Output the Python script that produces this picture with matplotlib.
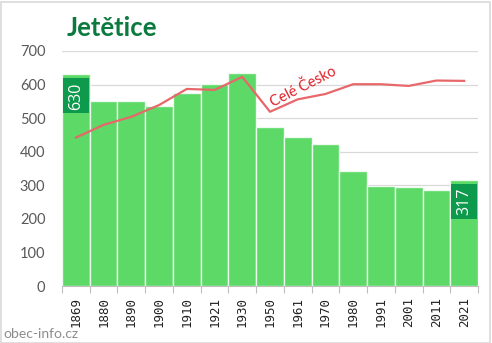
import matplotlib
matplotlib.use("Agg")
import matplotlib.pyplot as plt
from matplotlib.patches import Rectangle

years = ["1869", "1880", "1890", "1900", "1910", "1921", "1930",
         "1950", "1961", "1970", "1980", "1991", "2001", "2011", "2021"]
population = [630, 550, 550, 537, 576, 603, 633, 475, 445, 424, 343, 299, 294, 287, 317]
czechia_scaled = [442, 480, 504, 539, 587, 584, 623, 519, 556, 572, 601, 601, 596, 612, 611]
labelled = {0: "630", 14: "317"}
y_ticks = [0, 100, 200, 300, 400, 500, 600, 700]

W, H = 492, 343
fig = plt.figure(figsize=(W / 100, H / 100), dpi=100)
fig.patch.set_facecolor("white")
ax = fig.add_axes([62 / W, (H - 286) / H, (478 - 62) / W, (286 - 51) / H])

x = list(range(len(years)))
ax.bar(x, population, width=1.0, color="#5cd966", edgecolor=(1, 1, 1, 0.8),
       linewidth=1.0, zorder=2)
ax.plot(x, czechia_scaled, color="#e8676a", lw=1.6, zorder=3)

units_per_px = 700 / (286 - 51)
for i, txt in labelled.items():
    top = population[i] - 4 * units_per_px
    hgt = 35 * units_per_px
    ax.add_patch(Rectangle((i - 0.46, top - hgt), 0.92, hgt, fc="#0e9a4c", ec="none", zorder=5))
    ax.text(i, top - hgt / 2, txt, ha="center", va="center", rotation=90, color="white",
            fontsize=11.5, family="Open Sans", zorder=6)

ax.text(8.2, 592, "Celé Česko", rotation=27, color="#e0202a", fontsize=10.5,
        family="Lato", ha="center", va="center", rotation_mode="anchor", zorder=4)

ax.set_xlim(-0.5, len(years) - 0.5)
ax.set_ylim(0, 700)
ax.set_yticks(y_ticks)
ax.set_yticklabels([str(v) for v in y_ticks])
ax.yaxis.grid(True, color="#d9d9d9", lw=0.9, zorder=0)
ax.set_axisbelow(True)
ax.tick_params(axis="y", length=0, pad=12, labelsize=10.5, labelcolor="#595959")
for t in ax.get_yticklabels():
    t.set_family("Lato")

ax.set_xticks(x)
ax.set_xticklabels(years, rotation=90, family="DejaVu Sans Mono", fontsize=9, color="#222222")
ax.set_xticks([i - 0.5 for i in range(len(years) + 1)], minor=True)
ax.tick_params(axis="x", which="major", length=0, pad=8)
ax.tick_params(axis="x", which="minor", length=5, color="#bfbfbf", width=0.8)

for s in ["left", "right", "top"]:
    ax.spines[s].set_visible(False)
ax.spines["bottom"].set_color("#bfbfbf")
ax.spines["bottom"].set_linewidth(0.8)

fig.text(67 / W, 1 - 36 / H, "Jetětice", family="Lato", weight="bold", fontsize=18.5,
         color="#0b7a3e", ha="left", va="baseline")
fig.text(3 / W, 1 - 338 / H, "obec-info.cz", family="Lato", fontsize=10,
         color="#8c8c8c", ha="left", va="baseline")

fig.add_artist(Rectangle((0.5 / W, 0.5 / H), 1 - 2.5 / W, 1 - 2.5 / H,
                         transform=fig.transFigure, fill=False, ec="#d9d9d9", lw=1.2))

fig.savefig("out.png", dpi=100)
